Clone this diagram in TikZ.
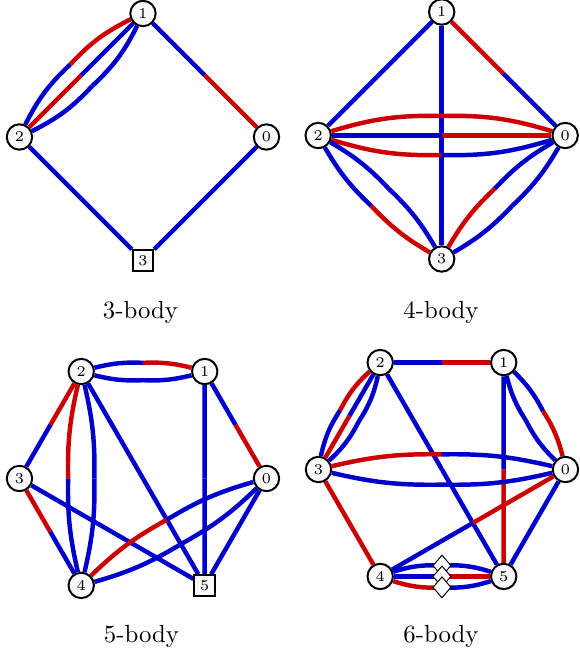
\documentclass[tikz,border=0pt]{standalone}
\usetikzlibrary{calc,shapes.geometric,backgrounds}
\definecolor{eblue}{RGB}{0,0,204}
\definecolor{ered}{RGB}{204,0,0}
% half-coloured edge: from #1 to #2, first half #3, second half #4, bend #5
\newcommand{\hedge}[5]{%
  \pgfmathsetmacro{\hbend}{#5/2}%
  \pgfmathsetmacro{\hsag}{tan(#5/2)}%
  \coordinate (mid) at ($(#1)!.5!(#2)!\hsag!90:(#2)$);
  \draw[#3] (#1) to[bend left=\hbend] (mid);
  \draw[#4] (mid) to[bend left=\hbend] (#2);
}
\begin{document}
\begin{tikzpicture}[
  vtx/.style={circle,draw,thick,fill=gray!4,inner sep=0pt,minimum size=0.36cm,font=\fontsize{6}{7}\selectfont},
  sq/.style={rectangle,draw,thick,fill=gray!4,inner sep=0pt,minimum size=0.29cm,font=\fontsize{6}{7}\selectfont},
  dmd/.style={diamond,draw,fill=white,inner sep=0pt,minimum width=0.26cm,minimum height=0.30cm},
  eb/.style={draw=eblue,line width=1.8pt},
  er/.style={draw=ered,line width=1.8pt}]
\useasboundingbox (0,0) rectangle (8.205,-9.31);
% 3-body
\begin{scope}[shift={(2.026,-1.941)}]
\node[vtx] (a0) at (0:1.75) {0};
\node[vtx] (a1) at (90:1.75) {1};
\node[vtx] (a2) at (180:1.75) {2};
\node[sq] (a3) at (270:1.75) {3};
\end{scope}
\node (cap3) at (1.991,-4.421) {3-body};
% 4-body
\begin{scope}[shift={(6.259,-1.920)}]
\node[vtx] (b0) at (0:1.75) {0};
\node[vtx] (b1) at (90:1.75) {1};
\node[vtx] (b2) at (180:1.75) {2};
\node[vtx] (b3) at (270:1.75) {3};
\end{scope}
\node (cap4) at (6.249,-4.421) {4-body};
% 5-body
\begin{scope}[shift={(2.026,-6.780)}]
\node[vtx] (c0) at (0:1.75) {0};
\node[vtx] (c1) at (60:1.75) {1};
\node[vtx] (c2) at (120:1.75) {2};
\node[vtx] (c3) at (180:1.75) {3};
\node[vtx] (c4) at (240:1.75) {4};
\node[sq] (c5) at (300:1.75) {5};
\end{scope}
\node (cap5) at (2.005,-9.012) {5-body};
% 6-body
\begin{scope}[shift={(6.263,-6.653)}]
\node[vtx] (d0) at (0:1.75) {0};
\node[vtx] (d1) at (60:1.75) {1};
\node[vtx] (d2) at (120:1.75) {2};
\node[vtx] (d3) at (180:1.75) {3};
\node[vtx] (d4) at (240:1.75) {4};
\node[vtx] (d5) at (300:1.75) {5};
\end{scope}
\node (cap6) at (6.249,-9.012) {6-body};
% edges
\begin{pgfonlayer}{background}
\hedge{a1}{a0}{eb}{er}{0}
\hedge{a2}{a3}{eb}{eb}{0}
\hedge{a0}{a3}{eb}{eb}{0}
\hedge{a2}{a1}{eb}{er}{20}
\hedge{a2}{a1}{er}{eb}{0}
\hedge{a2}{a1}{eb}{eb}{-20}
%
\hedge{b1}{b2}{eb}{eb}{0}
\hedge{b1}{b0}{er}{eb}{0}
\hedge{b1}{b3}{eb}{eb}{0}
\hedge{b2}{b0}{er}{er}{18}
\hedge{b2}{b0}{eb}{er}{0}
\hedge{b2}{b0}{er}{eb}{-18}
\hedge{b2}{b3}{eb}{er}{-16}
\hedge{b2}{b3}{eb}{eb}{16}
\hedge{b3}{b0}{er}{eb}{16}
\hedge{b3}{b0}{eb}{eb}{-16}
%
\hedge{c2}{c1}{eb}{er}{16}
\hedge{c2}{c1}{eb}{eb}{-16}
\hedge{c2}{c3}{er}{eb}{0}
\hedge{c2}{c4}{er}{eb}{-14}
\hedge{c2}{c4}{eb}{eb}{14}
\hedge{c2}{c5}{eb}{eb}{0}
\hedge{c1}{c5}{eb}{eb}{0}
\hedge{c1}{c0}{eb}{er}{0}
\hedge{c3}{c4}{er}{eb}{0}
\hedge{c3}{c5}{eb}{eb}{0}
\hedge{c4}{c0}{er}{eb}{15}
\hedge{c4}{c0}{eb}{eb}{-15}
\hedge{c0}{c5}{eb}{eb}{0}
%
\hedge{d2}{d1}{eb}{er}{0}
\hedge{d2}{d3}{er}{eb}{-20}
\hedge{d2}{d3}{eb}{er}{0}
\hedge{d2}{d3}{eb}{eb}{20}
\hedge{d2}{d5}{eb}{eb}{0}
\hedge{d1}{d0}{eb}{er}{18}
\hedge{d1}{d0}{eb}{eb}{-18}
\hedge{d1}{d5}{eb}{er}{0}
\hedge{d3}{d0}{er}{eb}{14}
\hedge{d3}{d0}{eb}{eb}{-14}
\hedge{d3}{d4}{er}{er}{0}
\hedge{d0}{d4}{er}{eb}{0}
\hedge{d0}{d5}{eb}{eb}{0}
\hedge{d4}{d5}{eb}{eb}{20}
\hedge{d4}{d5}{eb}{er}{0}
\hedge{d4}{d5}{er}{eb}{-20}
\end{pgfonlayer}
% markers on the 4--5 edges
\node[dmd] (k1) at ($(d4)!.5!(d5)!{tan(10)}!90:(d5)$) {};
\node[dmd] (k2) at ($(d4)!.5!(d5)$) {};
\node[dmd] (k3) at ($(d4)!.5!(d5)!{tan(-10)}!90:(d5)$) {};
\end{tikzpicture}
\end{document}
